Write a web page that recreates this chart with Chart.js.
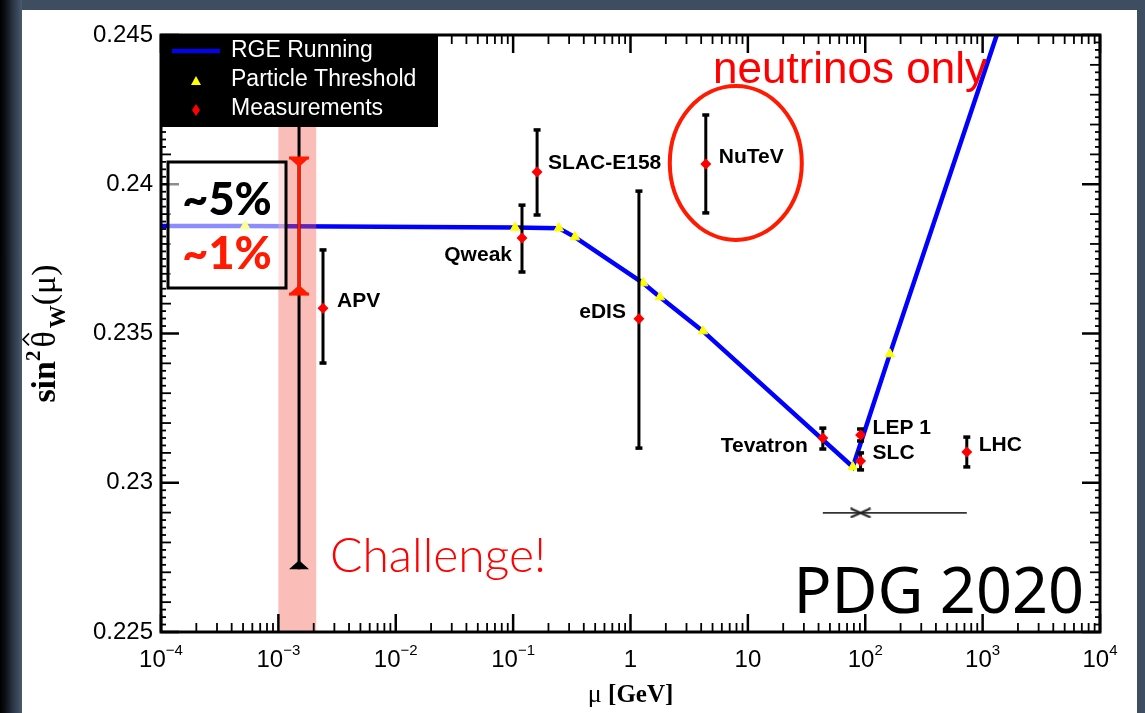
<!DOCTYPE html>
<html>
<head>
<meta charset="utf-8">
<title>sin²θW running</title>
<script src="https://cdn.jsdelivr.net/npm/chart.js@4.4.1/dist/chart.umd.min.js"></script>
<style>
  html, body { margin: 0; padding: 0; }
  body  { width: 1145px; height: 713px; overflow: hidden; position: relative; background: #3f4d61; }
  #bord { position: absolute; left: 0; top: 0; width: 22px; height: 713px;
          background: linear-gradient(to right, #000 0px, #0b0e13 5px, #28313f 12px, #4a5a70 22px); }
  #page { position: absolute; left: 22px; top: 10px; width: 1115px; height: 703px; background: #fff; }
  #chart { position: absolute; left: 0; top: 0; }
</style>
</head>
<body>
<div id="bord"></div>
<div id="page"></div>
<canvas id="chart" width="1145" height="713"></canvas>
<script>
// ============================================================
// Évolution de sin²θW(μ) avec l'échelle d'énergie (PDG 2020)
// Courbe RGE, seuils des particules, mesures + barres d'erreur
// ============================================================

// ── Seuils de particules (μ en GeV) ──────────────────────────
const seuilMu  = [5.2e-4, 0.104, 0.245, 0.336, 1.28, 1.78, 4.14, 78.4, 162];
const seuilVal = [0.23860, 0.23855, 0.23853, 0.23823, 0.23669, 0.23622, 0.23508, 0.23053, 0.23431];

// ── Courbe RGE : part de 1e-4 GeV, passe par les seuils, sort par le haut
const rgeMu  = [1e-4, ...seuilMu, 1320];
const rgeVal = [0.23860, ...seuilVal, 0.245];

// ── Mesures ──────────────────────────────────────────────────
const mesNoms = ['APV', 'Qweak', 'SLAC-E158', 'eDIS', 'NuTeV', 'Tevatron', 'LEP 1', 'SLC', 'LHC'];
const mesMu   = [2.4e-3, 0.119, 0.160, 1.18, 4.38, 43.5, 91.2, 91.2, 733];
const mesVal  = [0.23585, 0.23820, 0.24041, 0.23549, 0.24068, 0.23150, 0.23160, 0.23073, 0.23103];
const mesHaut = [0.23780, 0.23930, 0.24182, 0.23977, 0.24232, 0.23183, 0.23180, 0.23100, 0.23153];
const mesBas  = [0.23401, 0.23706, 0.23897, 0.23116, 0.23904, 0.23113, 0.23140, 0.23043, 0.23053];

// ── Plage LHC (trait horizontal avec croix) ──────────────────
const lhcMu  = [43.5, 91.2, 733];
const lhcVal = [0.22899, 0.22899, 0.22899];

// ── Bande « Challenge! » et projections ~5 % / ~1 % ──────────
const bandeMu    = [1.0e-3, 2.1e-3];
const projMu     = 1.5e-3;
const projVal    = 0.2386;
const projErr5   = 0.0115;
const projErr1   = 0.00228;

// ── Graduations ──────────────────────────────────────────────
const xExposants = [-4, -3, -2, -1, 0, 1, 2, 3, 4];
const yLabels    = ['0.225', '0.23', '0.235', '0.24', '0.245'];

// ── Placement des étiquettes de mesure (décalages en px) ─────
const etiquettes = [
  { dx:  14, dy: -7, align: 'left'  },
  { dx: -10, dy: 17, align: 'right' },
  { dx:  11, dy: -9, align: 'left'  },
  { dx: -13, dy: -7, align: 'right' },
  { dx:  13, dy: -7, align: 'left'  },
  { dx: -15, dy:  8, align: 'right' },
  { dx:  12, dy: -7, align: 'left'  },
  { dx:  12, dy: -8, align: 'left'  },
  { dx:  12, dy: -7, align: 'left'  }
];

const ROUGE = '#ff1a00';
const SANS  = '"Liberation Sans", Arial, sans-serif';
const SERIF = '"Liberation Serif", "Times New Roman", serif';

// croix aplatie pour la plage LHC
const croix = (() => {
  const c = document.createElement('canvas');
  c.width = 22; c.height = 11;
  const g = c.getContext('2d');
  g.strokeStyle = '#222'; g.lineWidth = 2;
  g.beginPath();
  g.moveTo(1, 1); g.lineTo(21, 10);
  g.moveTo(1, 10); g.lineTo(21, 1);
  g.stroke();
  return c;
})();

const pts = (xs, ys) => xs.map((x, i) => ({ x, y: ys[i] }));

// ── Outils de dessin ─────────────────────────────────────────
const px = (chart, mu) => chart.scales.x.getPixelForValue(mu);
const py = (chart, v)  => chart.scales.y.getPixelForValue(v);

function trait(ctx, x1, y1, x2, y2) {
  ctx.beginPath(); ctx.moveTo(x1, y1); ctx.lineTo(x2, y2); ctx.stroke();
}

// triangle de fin de barre : dir = +1 pointe vers le bas, -1 vers le haut
function triangle(ctx, x, y, dir, couleur) {
  ctx.fillStyle = couleur;
  ctx.beginPath();
  ctx.moveTo(x - 10, y); ctx.lineTo(x + 10, y); ctx.lineTo(x, y + dir * 9);
  ctx.closePath(); ctx.fill();
}

function barresErreur(chart) {
  const ctx = chart.ctx;
  ctx.save();
  ctx.strokeStyle = '#000';
  ctx.lineWidth = 3;
  mesMu.forEach((m, i) => {
    const x = px(chart, m), yh = py(chart, mesHaut[i]), yb = py(chart, mesBas[i]);
    trait(ctx, x, yh, x, yb);
    ctx.lineWidth = 3.5;
    trait(ctx, x - 3.5, yh, x + 3.5, yh);
    trait(ctx, x - 3.5, yb, x + 3.5, yb);
    ctx.lineWidth = 3;
  });
  ctx.restore();
}

function bandeEtProjections(chart) {
  const ctx = chart.ctx, a = chart.chartArea;
  ctx.save();
  ctx.beginPath(); ctx.rect(a.left, a.top, a.right - a.left, a.bottom - a.top); ctx.clip();

  // bande rose semi-transparente
  const x1 = px(chart, bandeMu[0]), x2 = px(chart, bandeMu[1]);
  ctx.fillStyle = 'rgba(245,90,78,0.4)';
  ctx.fillRect(x1, a.top, x2 - x1, a.bottom - a.top);

  const x = px(chart, projMu);
  // ~5 % (noir)
  let yh = py(chart, projVal + projErr5), yb = py(chart, projVal - projErr5);
  ctx.strokeStyle = '#000'; ctx.lineWidth = 3;
  trait(ctx, x, yh, x, yb);
  triangle(ctx, x, yb, -1, '#000');

  // ~1 % (rouge)
  yh = py(chart, projVal + projErr1); yb = py(chart, projVal - projErr1);
  ctx.strokeStyle = ROUGE; ctx.lineWidth = 3;
  trait(ctx, x, yh, x, yb);
  trait(ctx, x - 10, yh, x + 10, yh);
  trait(ctx, x - 10, yb, x + 10, yb);
  triangle(ctx, x, yh, 1, ROUGE);
  triangle(ctx, x, yb, -1, ROUGE);
  ctx.restore();
}

function annotations(chart) {
  const ctx = chart.ctx;
  ctx.save();

  // noms des mesures
  ctx.fillStyle = '#000';
  ctx.font = 'bold 21px ' + SANS;
  ctx.textBaseline = 'middle';
  mesNoms.forEach((nom, i) => {
    const e = etiquettes[i];
    ctx.textAlign = e.align;
    ctx.fillText(nom, px(chart, mesMu[i]) + e.dx, py(chart, mesVal[i]) + e.dy);
  });

  // ellipse autour de NuTeV
  const nx = px(chart, mesMu[4]) + 30, ny = py(chart, mesVal[4]) - 1;
  ctx.strokeStyle = ROUGE; ctx.lineWidth = 4;
  ctx.beginPath(); ctx.ellipse(nx, ny, 66, 77, 0, 0, Math.PI * 2); ctx.stroke();

  ctx.textBaseline = 'alphabetic';
  ctx.textAlign = 'left';
  ctx.fillStyle = '#ff0000';
  ctx.font = '44px ' + SANS;
  ctx.fillText('neutrinos only', 713, 83);

  ctx.font = '300 48px Lato, "Open Sans", sans-serif';
  ctx.fillText('Challenge!', 330, 572);

  ctx.fillStyle = '#000';
  ctx.textAlign = 'right';
  ctx.font = '63px "Noto Sans", "Open Sans", sans-serif';
  ctx.fillText('PDG 2020', 1084, 613);
  ctx.restore();
}

function cadre(chart) {
  const ctx = chart.ctx, a = chart.chartArea;
  ctx.save();
  ctx.strokeStyle = '#000';

  // graduations Y (gauche et droite, vers l'intérieur)
  for (let i = 0; i <= 80; i++) {
    const y = py(chart, 0.225 + i * 0.00025);
    const long = i % 20 === 0 ? 18 : (i % 4 === 0 ? 10 : 5);
    ctx.lineWidth = i % 20 === 0 ? 2.5 : 1.8;
    trait(ctx, a.left, y, a.left + long, y);
    trait(ctx, a.right, y, a.right - long, y);
  }

  // graduations X logarithmiques (bas et haut)
  for (let e = -4; e <= 4; e++) {
    for (let k = 1; k <= 9; k++) {
      if (e === 4 && k > 1) break;
      const x = px(chart, k * Math.pow(10, e));
      const long = k === 1 ? 18 : 9;
      ctx.lineWidth = k === 1 ? 2.5 : 1.8;
      trait(ctx, x, a.bottom, x, a.bottom - long);
      trait(ctx, x, a.top, x, a.top + long);
    }
  }

  ctx.lineWidth = 3;
  ctx.strokeRect(a.left, a.top, a.right - a.left, a.bottom - a.top);
  ctx.restore();
}

function encadre(chart) {
  const ctx = chart.ctx;
  ctx.save();
  ctx.fillStyle = 'rgba(255,255,255,0.55)';
  ctx.fillRect(168, 162, 118, 126);
  ctx.strokeStyle = '#000'; ctx.lineWidth = 3;
  ctx.strokeRect(168, 162, 118, 126);
  ctx.textAlign = 'center';
  ctx.font = '900 45px Lato, "Noto Sans", sans-serif';
  ctx.fillStyle = '#000';
  ctx.fillText('~5%', 227, 215);
  ctx.fillStyle = ROUGE;
  ctx.fillText('~1%', 227, 269);
  ctx.restore();
}

function titresAxes(chart) {
  const ctx = chart.ctx, a = chart.chartArea;
  ctx.save();
  ctx.fillStyle = '#000';
  ctx.textBaseline = 'alphabetic';

  // étiquettes X : 10^n avec exposant
  xExposants.forEach(e => {
    const x = px(chart, Math.pow(10, e));
    const base = e === 0 ? '1' : '10';
    const exp  = (e === 0 || e === 1) ? '' : (e < 0 ? '\u2212' + (-e) : String(e));
    ctx.font = '24px ' + SANS;
    const wb = ctx.measureText(base).width;
    ctx.font = '15px ' + SANS;
    const we = ctx.measureText(exp).width;
    const x0 = x - (wb + we) / 2;
    ctx.textAlign = 'left';
    ctx.font = '24px ' + SANS;
    ctx.fillText(base, x0, 667);
    ctx.font = '15px ' + SANS;
    ctx.fillText(exp, x0 + wb, 655);
  });

  // titre X : μ [GeV]
  ctx.font = '26px ' + SERIF;
  const wMu = ctx.measureText('\u03bc ').width;
  ctx.font = 'bold 25px ' + SERIF;
  const wGeV = ctx.measureText('[GeV]').width;
  let xt = (a.left + a.right) / 2 - (wMu + wGeV) / 2;
  ctx.textAlign = 'left';
  ctx.font = '26px ' + SERIF;
  ctx.fillText('\u03bc ', xt, 702);
  ctx.font = 'bold 25px ' + SERIF;
  ctx.fillText('[GeV]', xt + wMu, 702);

  // titre Y : sin²θ̂W(μ), vertical
  ctx.translate(55, (a.top + a.bottom) / 2);
  ctx.rotate(-Math.PI / 2);
  const morceaux = [
    { t: 'sin',      f: 'bold 34px ' + SERIF, dy: 0,   gap: 0 },
    { t: '2',        f: 'bold 21px ' + SERIF, dy: -15, gap: 3 },
    { t: '\u03b8',   f: '34px ' + SERIF,      dy: 0,   gap: 3, chapeau: true },
    { t: 'W',        f: 'bold 23px ' + SERIF, dy: 10,  gap: 0 },
    { t: '(\u03bc)', f: '34px ' + SERIF,      dy: 0,   gap: 0 }
  ];
  let total = 0;
  morceaux.forEach(m => { ctx.font = m.f; m.w = ctx.measureText(m.t).width; total += m.w + m.gap; });
  let cx = -total / 2;
  ctx.lineWidth = 1.6; ctx.strokeStyle = '#000';
  morceaux.forEach(m => {
    ctx.font = m.f;
    ctx.fillText(m.t, cx, m.dy);
    if (m.chapeau) {
      const c = cx + m.w / 2;
      ctx.beginPath(); ctx.moveTo(c - 6, -26); ctx.lineTo(c, -32); ctx.lineTo(c + 6, -26); ctx.stroke();
    }
    cx += m.w + m.gap;
  });
  ctx.restore();
}

function legende(chart) {
  const ctx = chart.ctx, a = chart.chartArea;
  const ds = chart.data.datasets;
  ctx.save();
  ctx.fillStyle = '#000';
  ctx.fillRect(a.left, a.top, 277, 92);

  // échantillons
  ctx.strokeStyle = ds[2].borderColor; ctx.lineWidth = 4;
  trait(ctx, 172, 51, 220, 51);
  ctx.fillStyle = ds[1].backgroundColor;
  ctx.beginPath(); ctx.moveTo(196, 76); ctx.lineTo(201, 85); ctx.lineTo(191, 85); ctx.closePath(); ctx.fill();
  ctx.fillStyle = ds[0].backgroundColor;
  ctx.beginPath(); ctx.moveTo(196, 104); ctx.lineTo(200, 110); ctx.lineTo(196, 116); ctx.lineTo(192, 110); ctx.closePath(); ctx.fill();

  ctx.fillStyle = '#fff';
  ctx.font = '23px ' + SANS;
  ctx.textBaseline = 'middle';
  ctx.fillText(ds[2].label, 231, 51);
  ctx.fillText(ds[1].label, 231, 80);
  ctx.fillText(ds[0].label, 231, 109);
  ctx.restore();
}

// ── Plugin : tout ce que Chart.js ne dessine pas seul ─────────
const habillage = {
  id: 'habillage',
  beforeDatasetDraw(chart, args) {
    if (args.index === 0) barresErreur(chart);   // sous les losanges, au-dessus de la courbe
  },
  afterDatasetsDraw(chart) {
    bandeEtProjections(chart);
    annotations(chart);
    cadre(chart);
    encadre(chart);
    titresAxes(chart);
    legende(chart);
  }
};

// ── Graphique ────────────────────────────────────────────────
const ctx = document.getElementById('chart').getContext('2d');
new Chart(ctx, {
  type: 'scatter',
  data: {
    datasets: [
      {
        label          : 'Measurements',
        data           : pts(mesMu, mesVal),
        pointStyle     : 'rectRot',
        pointRadius    : 5.5,
        backgroundColor: '#ff0000',
        borderColor    : '#ff0000',
        borderWidth    : 0,
        order          : 0
      },
      {
        label          : 'Particle Threshold',
        data           : pts(seuilMu, seuilVal),
        pointStyle     : 'triangle',
        pointRadius    : 5.5,
        backgroundColor: '#ffff00',
        borderColor    : '#ffff00',
        borderWidth    : 1,
        order          : 1
      },
      {
        label      : 'RGE Running',
        data       : pts(rgeMu, rgeVal),
        showLine   : true,
        borderColor: '#0000ff',
        borderWidth: 4.5,
        pointRadius: 0,
        order      : 2
      },
      {
        label      : 'LHC',
        data       : pts(lhcMu, lhcVal),
        showLine   : true,
        borderColor: '#333',
        borderWidth: 1.6,
        pointStyle : c => (c.dataIndex === 1 ? croix : 'circle'),
        pointRadius: c => (c.dataIndex === 1 ? 5 : 0),
        order      : 3
      }
    ]
  },
  options: {
    responsive: false,
    animation : false,
    events    : [],
    layout    : { padding: { left: 0, top: 35, right: 45, bottom: 81 } },
    plugins   : { legend: { display: false }, tooltip: { enabled: false } },
    scales: {
      x: {
        type   : 'logarithmic',
        min    : 1e-4,
        max    : 1e4,
        display: false
      },
      y: {
        type  : 'linear',
        min   : 0.225,
        max   : 0.245,
        grid  : { display: false, drawTicks: false },
        border: { display: false },
        ticks : {
          stepSize: 0.005,
          padding : 8,
          color   : '#000',
          font    : { family: 'Liberation Sans', size: 24 },
          callback: v => yLabels.find(l => Math.abs(parseFloat(l) - v) < 1e-6) ?? ''
        },
        afterFit: s => { s.width = 161; }
      }
    }
  },
  plugins: [habillage]
});
</script>
</body>
</html>
